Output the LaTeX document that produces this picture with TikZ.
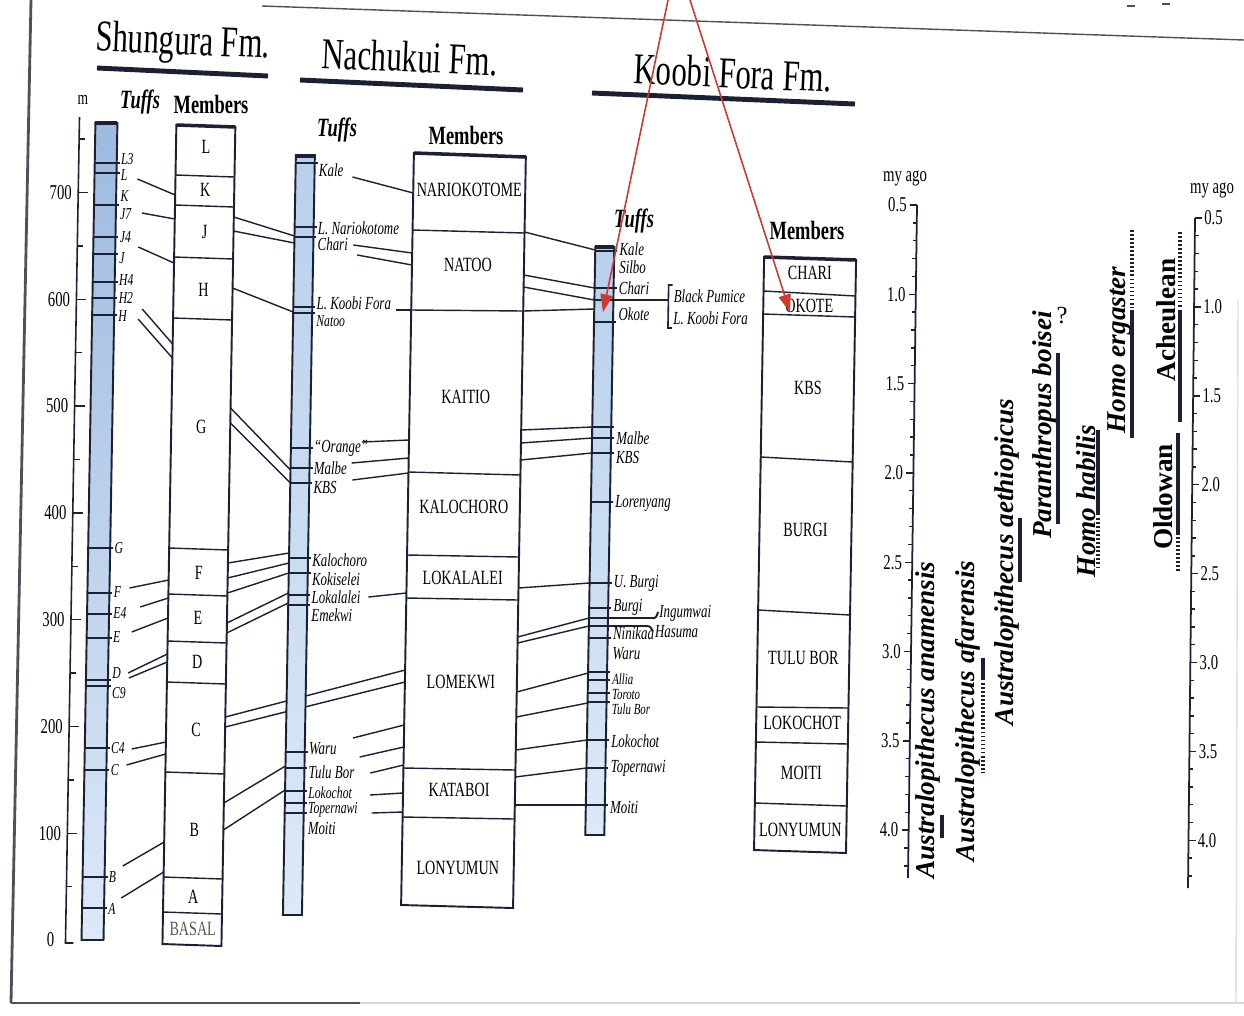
\documentclass[tikz,border=0pt]{standalone}
\usepackage{fontspec}
\setmainfont{Liberation Serif}
\newfontfamily\cnd{Liberation Serif}[FakeStretch=0.7]
\usetikzlibrary{arrows.meta}

\definecolor{inkline}{RGB}{28,32,52}
\definecolor{tuffdark}{RGB}{158,186,224}
\definecolor{tuffmid}{RGB}{184,208,236}
\definecolor{tufflight}{RGB}{220,233,247}
\definecolor{arrowred}{RGB}{204,58,48}
\definecolor{pageedge}{RGB}{80,80,88}

\tikzset{
  tilt/.style={xshift=0.17cm, xslant=0.017},
  colframe/.style={draw=inkline, line width=1.1pt},
  bound/.style={draw=inkline, line width=0.8pt},
  tuffline/.style={draw=inkline, line width=1.1pt},
  tie/.style={draw=inkline, line width=0.8pt},
  ttl/.style={font=\cnd\fontsize{25}{25}\selectfont, inner sep=0pt},
  colhead/.style={font=\cnd\bfseries\fontsize{15}{15}\selectfont, inner sep=0pt},
  colheadit/.style={font=\cnd\bfseries\itshape\fontsize{15}{15}\selectfont, inner sep=0pt},
  memb/.style={font=\cnd\fontsize{11.5}{12}\selectfont, inner sep=0pt},
  tuffl/.style={font=\cnd\itshape\fontsize{10.5}{11}\selectfont, anchor=west, inner sep=0pt},
  tuffs/.style={tuffl, font=\cnd\itshape\fontsize{9.5}{10}\selectfont},
  tufft/.style={tuffl, font=\cnd\itshape\fontsize{8.8}{9}\selectfont},
  axnum/.style={font=\cnd\fontsize{12}{12}\selectfont, inner sep=0pt},
  species/.style={font=\bfseries\itshape\fontsize{15.5}{16}\selectfont, rotate=90, inner sep=0pt},
  industry/.style={font=\bfseries\fontsize{15.5}{16}\selectfont, rotate=90, inner sep=0pt},
  timebar/.style={draw=inkline, line width=2.3pt},
  timedots/.style={draw=inkline, line width=2.6pt, dash pattern=on 1pt off 1.3pt},
}

\begin{document}
\begin{tikzpicture}[x=0.02cm, y=-0.02cm, >={Triangle[length=10pt,width=7pt]}]
\fill[white] (0,0) rectangle (1244,1015);
\useasboundingbox (0,0) rectangle (1244,1015);

% bordes de la hoja
\draw[pageedge, line width=1.6pt] (31,0) -- (11,1003);
\draw[pageedge, line width=1.2pt] (11,1003) -- (360,1003);
\draw[gray!30, line width=1pt] (360,1003) -- (1244,1003);
\draw[gray!25, line width=0.8pt] (1238,300) -- (1236,1003);
\draw[pageedge, line width=0.8pt] (262,6) -- (1244,40);
\draw[pageedge, line width=1pt] (1127,6) -- (1135,6);
\draw[pageedge, line width=1pt] (1162,4) -- (1170,4);

% titulos
\node[ttl, rotate=-2.5] (tShun) at (183,44) {Shungura Fm.};
\draw[inkline, line width=2.8pt] (97,68) -- (268,76);
\node[ttl, rotate=-2.5] (tNach) at (410,57) {Nachukui Fm.};
\draw[inkline, line width=2.8pt] (300,80) -- (523,90);
\node[ttl, rotate=-2.5] (tKoob) at (733,73) {Koobi Fora Fm.};
\draw[inkline, line width=2.8pt] (592,93) -- (855,104);

% cabeceras
\node[axnum, font=\cnd\fontsize{11}{11}\selectfont] (hM) at (83,100) {m};
\node[colheadit] (hShT) at (140,102) {Tuffs};
\node[colhead] (hShM) at (211,104) {Members};
\node[colheadit] (hNaT) at (337,130) {Tuffs};
\node[colhead] (hNaM) at (466,135) {Members};
\node[colheadit] (hKoT) at (634,221) {Tuffs};
\node[colhead] (hKoM) at (807,230) {Members};

\begin{scope}[tilt]
% ---------- Shungura ----------
\draw[inkline, line width=0.9pt] (73,117) -- (73,943) -- (81,943);
\foreach \m in {100,200,...,700}{
  \pgfmathsetmacro{\yy}{940-1.068*\m}
  \draw[inkline, line width=0.8pt] (73,\yy) -- (83,\yy);
  \node[axnum, anchor=east] (shAx\m) at (67,\yy) {\m};
}
\node[axnum, anchor=east] (shAx0) at (62,940) {0};
\foreach \m in {50,150,...,750}{
  \pgfmathsetmacro{\yy}{940-1.068*\m}
  \draw[inkline, line width=0.8pt] (73,\yy) -- (79,\yy);
}

\shade[top color=tuffdark, bottom color=tufflight] (89,123) rectangle (111,940);
\foreach \y in {163,173,205,237,254,282,298,315,548,593,614,638,680,686,748,770,877,908}
  \draw[tuffline] (89,\y) -- (114,\y);
\draw[colframe] (89,123) rectangle (111,940);
\draw[inkline, line width=2pt] (89,123) -- (111,123);
\foreach \y/\t [count=\i] in {159/L3,175/L,196/K,214/J7,237/J4,258/J,280/H4,298/H2,316/H,
    548/G,592/F,613/E4,637/E,673/D,693/C9,748/C4,770/C,877/B,909/A}
  \node[tuffs] (shT\i) at (115,\y) {\t};

\draw[colframe] (170,125) -- (229,127) -- (229,946) -- (170,944) -- cycle;
\draw[inkline, line width=2pt] (170,125) -- (229,127);
\foreach \a/\b in {175/177,205/207,257/259,318/320,548/550,594/596,641/643,682/684,772/774,877/879,912/914}
  \draw[bound] (170,\a) -- (229,\b);
\foreach \y/\t [count=\i] in {147/L,190/K,232/J,290/H,427/G,573/F,618/E,662/D,730/C,830/B,897/A}
  \node[memb] (shM\i) at (200,\y) {\t};
\node[memb, text=black!65] (shM12) at (200,929) {BASAL};

% lineas de correlacion tobas -> miembros
\foreach \xa/\ya/\yb in {132/179/195, 137/213/219, 134/247/263, 139/309/344, 135/319/358,
    131/588/580, 142/607/598, 134/632/618, 131/673/654, 132/678/662, 136/749/742,
    131/765/754, 129/866/842, 128/898/872}
  \draw[tie] (\xa,\ya) -- (170,\yb);

% Shungura -> Nachukui
\foreach \ya/\yb in {217/236, 231/243, 288/312, 408/470, 423/483, 563/553, 578/563, 593/573,
    623/593, 633/603, 803/766, 830/790}
  \draw[tie] (229,\ya) -- (290,\yb);
\draw[tie] (229,717) -- (408,670);
\draw[tie] (229,727) -- (408,682);

% ---------- Nachukui ----------
\shade[top color=tuffmid, bottom color=tufflight] (290,155) rectangle (309,915);
\foreach \y in {163,227,237,307,313,448,468,483,558,573,595,605,752,768,791,803,813}
  \draw[tuffline] (290,\y) -- (312,\y);
\draw[colframe] (290,155) rectangle (309,915);
\draw[inkline, line width=2pt] (290,156) -- (309,156);
\foreach \y/\t [count=\i] in {170/Kale,228/{L. Nariokotome},244/Chari,303/{L. Koobi Fora},
    448/{“Orange”},468/Malbe,487/KBS,560/Kalochoro,579/Kokiselei,597/Lokalalei,615/Emekwi,
    749/Waru,772/{Tulu Bor},828/Moiti}
  \node[tuffl] (naT\i) at (313,\y) {\t};
\foreach \y/\t [count=\i] in {321/Natoo,793/Lokochot,810/Topernawi}
  \node[tuffs] (naS\i) at (313,\y) {\t};

\draw[colframe] (408,153) -- (520,157) -- (520,908) -- (408,905) -- cycle;
\draw[inkline, line width=2pt] (408,153) -- (520,157);
\foreach \a/\b in {230/233,310/311,472/475,555/557,598/600,768/770,817/819}
  \draw[bound] (408,\a) -- (520,\b);
\foreach \y/\t [count=\i] in {190/NARIOKOTOME,265/NATOO,397/KAITIO,507/KALOCHORO,578/LOKALALEI,
    682/LOMEKWI,790/KATABOI,868/LONYUMUN}
  \node[memb] (naM\i) at (464,\y) {\t};

\foreach \xa/\ya/\yb in {347/177/193, 349/245/253, 353/255/265, 393/310/310, 361/442/440,
    351/463/458, 352/480/473, 370/597/593, 357/738/725, 364/757/747, 375/773/765,
    375/795/793, 377/813/812}
  \draw[tie] (\xa,\ya) -- (408,\yb);

% Nachukui -> Koobi Fora
\foreach \ya/\yb in {232/250, 275/288, 287/300, 311/309, 430/427, 443/438, 460/453, 588/583,
    637/618, 643/626, 692/673, 717/703, 750/740, 777/768, 805/805}
  \draw[tie] (520,\ya) -- (591,\yb);

% ---------- Koobi Fora ----------
\shade[top color=tuffmid, bottom color=tufflight] (591,247) rectangle (610,835);
\foreach \y in {251,288,322,427,438,453,502,583,608,638,672,680,693,702,740,768,805}
  \draw[tuffline] (591,\y) -- (613,\y);
\draw[tuffline] (591,300) -- (665,300);
\draw[tuffline] (591,618) -- (654,618) .. controls (658,618) .. (660,612);
\draw[tuffline] (591,626) -- (647,626) .. controls (652,626) .. (655,631);
\draw[colframe] (591,247) rectangle (610,835);
\draw[inkline, line width=2pt] (591,247) -- (610,247);
\foreach \y/\t [count=\i] in {249/Kale,267/Silbo,288/Chari,314/Okote,438/Malbe,457/KBS,
    503/Lorenyang,583/{U. Burgi},607/Burgi,633/Ninikaa,654/Waru,741/Lokochot,768/Topernawi,807/Moiti}
  \node[tuffl] (koT\i) at (615,\y) {\t};
\foreach \y/\t [count=\i] in {679/Allia,694/Toroto,709/{Tulu Bor}}
  \node[tufft] (koS\i) at (615,\y) {\t};
\node[tuffl] (koIng) at (661,613) {Ingumwai};
\node[tuffl] (koHas) at (657,632) {Hasuma};
\draw[inkline, line width=0.9pt] (669,285) -- (665,285) -- (665,328) -- (669,328);
\node[tuffl] (koBP) at (670,296) {Black Pumice};
\node[tuffl] (koLKF) at (670,318) {L. Koobi Fora};

\draw[colframe] (760,257) -- (852,260) -- (852,853) -- (760,850) -- cycle;
\draw[inkline, line width=2pt] (760,257) -- (852,260);
\foreach \a/\b in {291/296,314/317,457/462,610/615,707/708,742/744,803/806}
  \draw[bound] (760,\a) -- (852,\b);
\foreach \y/\t [count=\i] in {273/CHARI,306/OKOTE,388/KBS,530/BURGI,658/{TULU BOR},723/LOKOCHOT,
    773/MOITI,830/LONYUMUN}
  \node[memb] (koM\i) at (806,\y) {\t};
\end{scope}

% ---------- escala de tiempo ----------
\node[axnum] (myL) at (905,178) {my ago};
\node[axnum] (myR) at (1212,190) {my ago};
\draw[inkline, line width=1pt] (917,205) -- (908,878);
\draw[inkline, line width=1pt] (1195,218) -- (1188,888);
\foreach \i in {0,...,37}{
  \pgfmathsetmacro{\yy}{205+\i*17.86}
  \pgfmathsetmacro{\xx}{917-9*\i*17.86/673}
  \pgfmathsetmacro{\ln}{ifthenelse(mod(\i,5)==0,7,4)}
  \draw[inkline, line width=0.8pt] (\xx,\yy) -- ++(-\ln,0);
  \pgfmathsetmacro{\yr}{218+\i*17.78}
  \pgfmathsetmacro{\xr}{1195-7*\i*17.78/670}
  \draw[inkline, line width=0.8pt] (\xr,\yr) -- ++(\ln,0);
}
\foreach \t [count=\i from 0] in {0.5,1.0,1.5,2.0,2.5,3.0,3.5,4.0}{
  \pgfmathsetmacro{\yy}{205+\i*89.3}
  \pgfmathsetmacro{\xx}{917-9*\i*89.3/673-10}
  \node[axnum, anchor=east] (tl\i) at (\xx,\yy) {\t};
  \pgfmathsetmacro{\yr}{218+\i*88.9}
  \pgfmathsetmacro{\xr}{1195-7*\i*88.9/670+9}
  \node[axnum, anchor=west] (tr\i) at (\xr,\yr) {\t};
}

% especies e industrias
\node[species] (spAnam) at (928,720) {Australopithecus anamensis};
\draw[timebar] (942,815) -- (942,838);
\node[species] (spAfar) at (968,711) {Australopithecus afarensis};
\draw[timebar] (983,658) -- (983,680);
\draw[timedots] (983,683) -- (983,772);
\node[species] (spAeth) at (1007,562) {Australopithecus aethiopicus};
\draw[timebar] (1020,518) -- (1020,582);
\node[species] (spBois) at (1045,425) {Paranthropus boisei};
\draw[timebar] (1058,353) -- (1058,524);
\node[axnum, font=\fontsize{14}{14}\selectfont] (qBois) at (1062,316) {?};
\node[species] (spHab) at (1086,501) {Homo habilis};
\draw[timebar] (1098,430) -- (1098,515);
\draw[timedots] (1098,518) -- (1098,568);
\node[species] (spErg) at (1119,350) {Homo ergaster};
\draw[timedots] (1132,230) -- (1132,307);
\draw[timebar] (1132,310) -- (1132,438);
\node[industry] (inAch) at (1166,320) {Acheulean};
\draw[timedots] (1180,232) -- (1180,308);
\draw[timebar] (1180,310) -- (1180,422);
\node[industry] (inOld) at (1163,497) {Oldowan};
\draw[timebar] (1178,433) -- (1178,535);
\draw[timedots] (1178,537) -- (1178,572);

% flechas rojas
\coordinate (rA0) at (668,0);
\coordinate (rA1) at (603,312);
\coordinate (rB0) at (690,0);
\coordinate (rB1) at (790,312);
\draw[->, arrowred, line width=0.9pt] (rA0) -- (rA1);
\draw[->, arrowred, line width=0.9pt] (rB0) -- (rB1);

\end{tikzpicture}
\end{document}
